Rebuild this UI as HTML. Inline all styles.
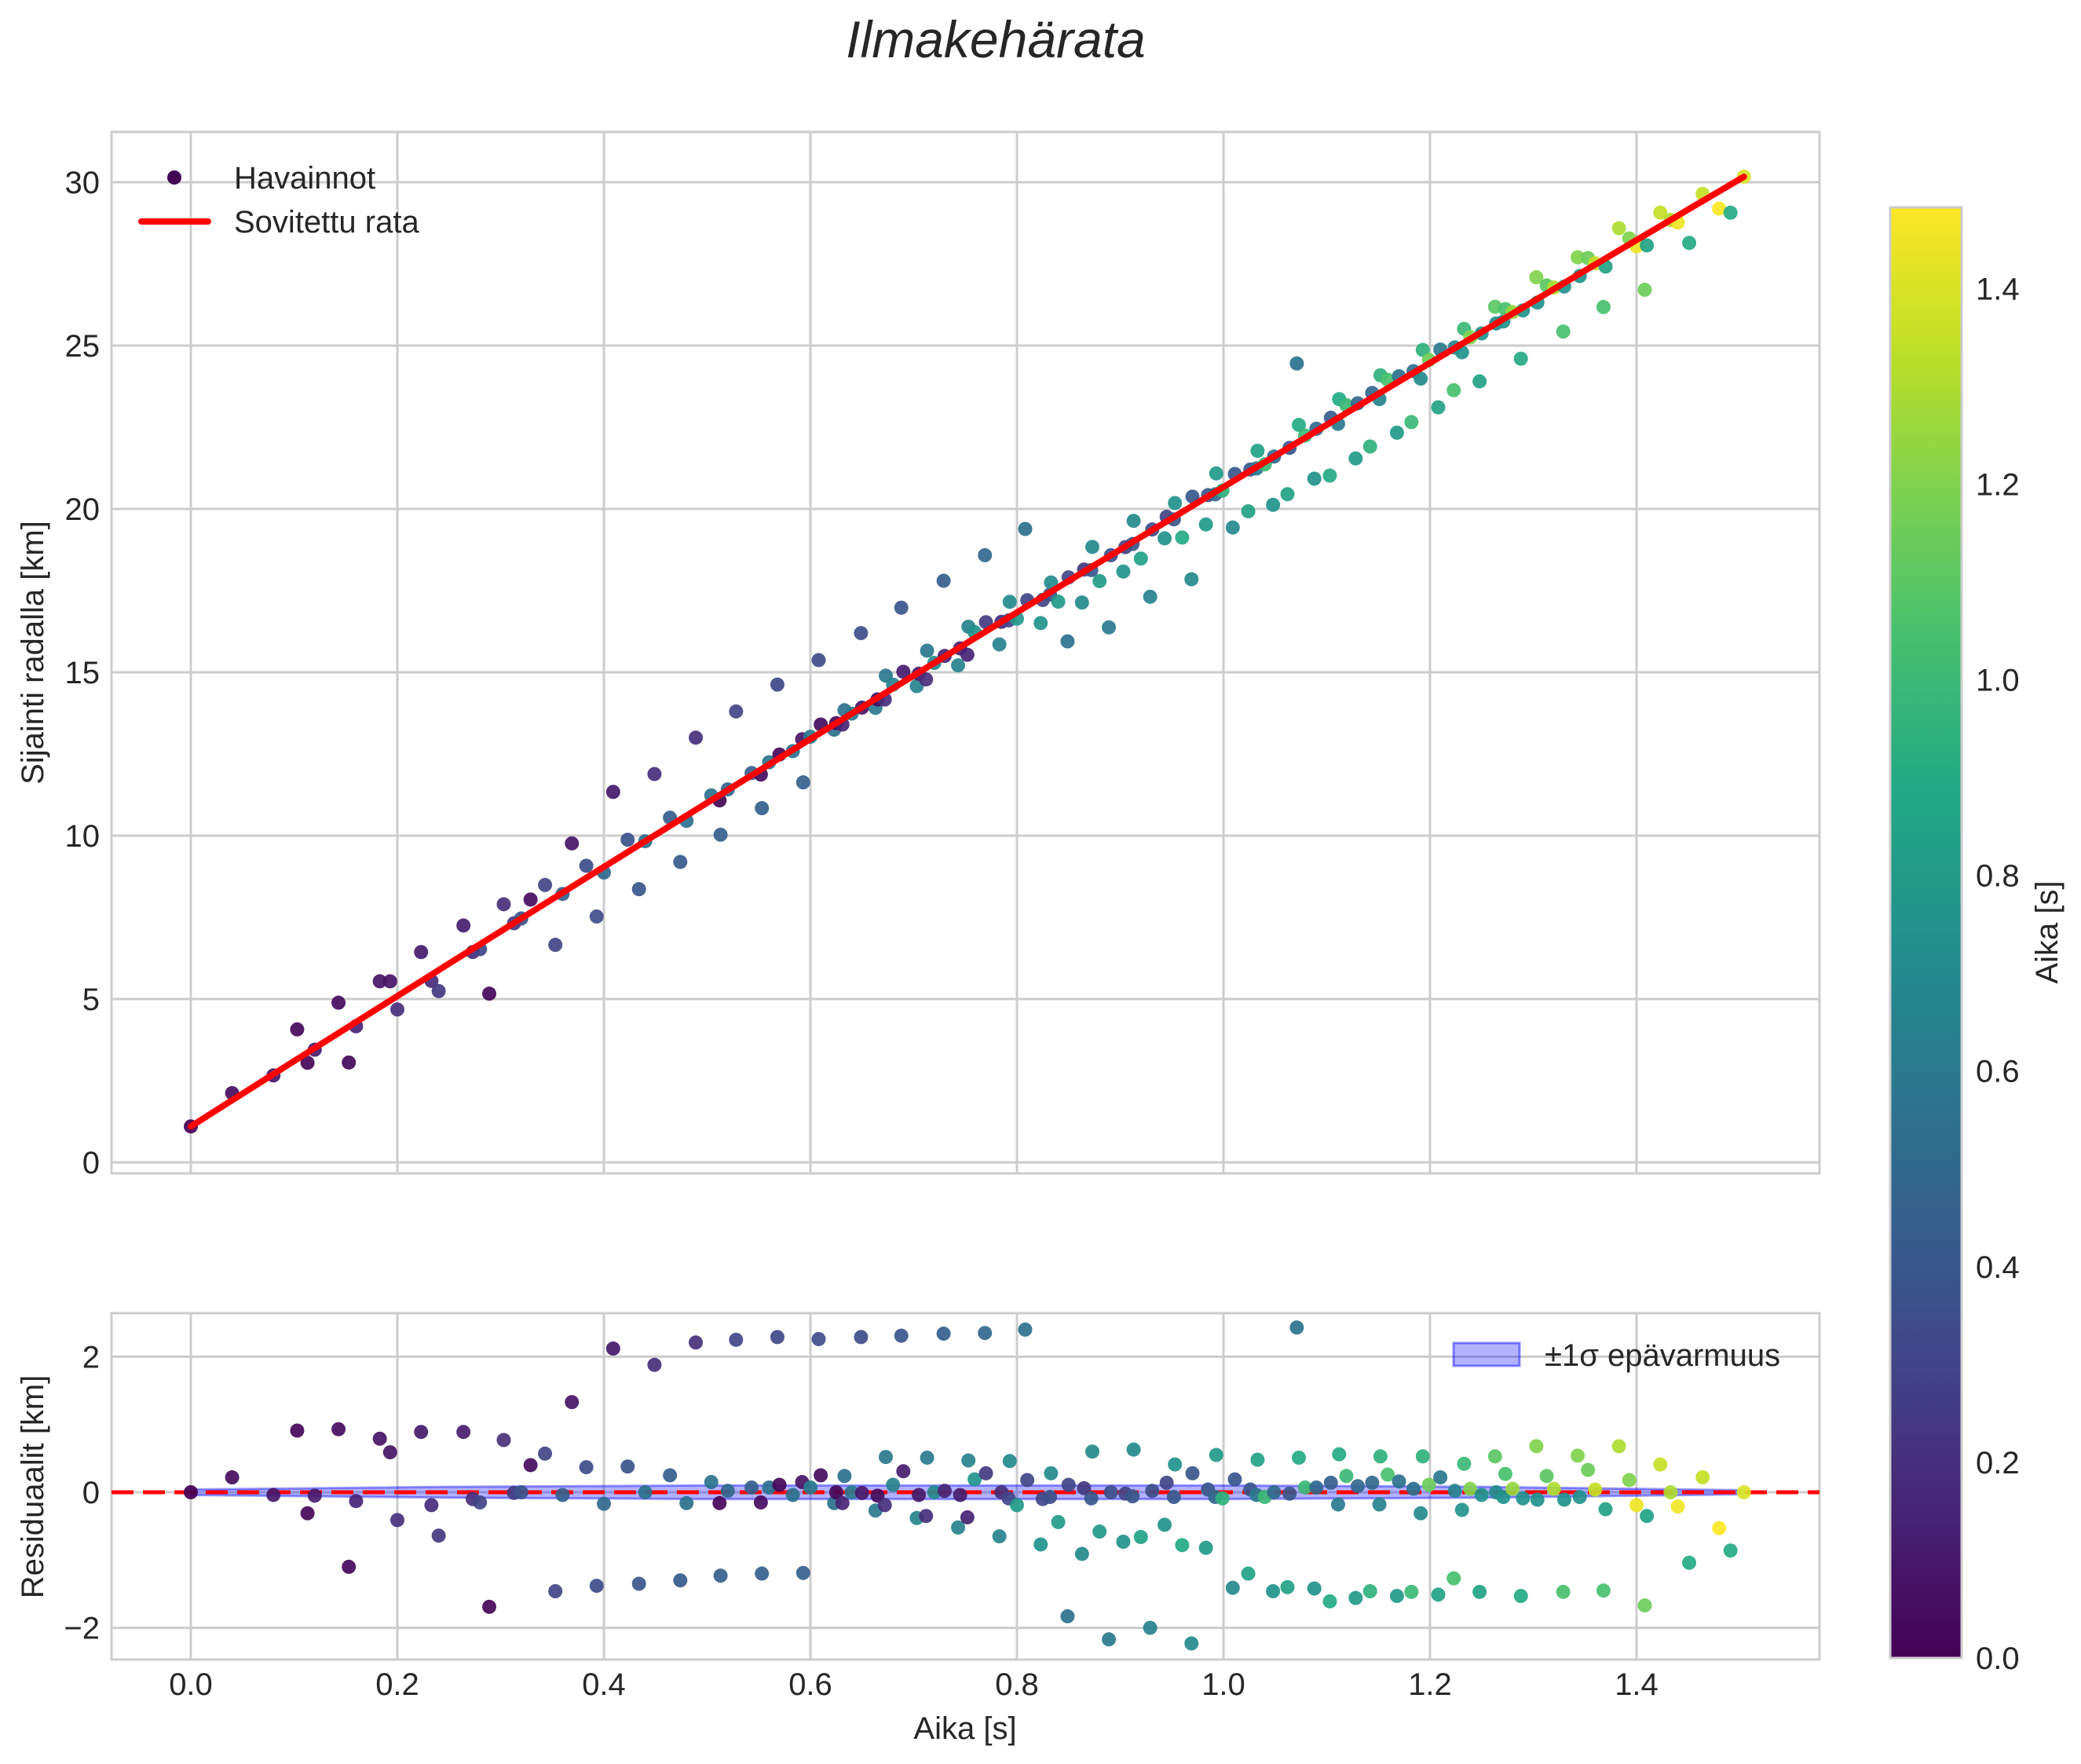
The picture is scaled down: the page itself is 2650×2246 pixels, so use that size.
<!DOCTYPE html>
<html><head><meta charset="utf-8"><style>
html,body{margin:0;padding:0;background:#fff;}
svg{display:block;font-family:"Liberation Sans",sans-serif;}
</style></head><body>
<svg id="chart" width="2650" height="2246" viewBox="0 0 2650 2246" xmlns="http://www.w3.org/2000/svg">
<defs>
<linearGradient id="viridis" x1="0" y1="1" x2="0" y2="0">
<stop offset="0" stop-color="#440154"/><stop offset="0.1" stop-color="#482475"/><stop offset="0.2" stop-color="#414487"/><stop offset="0.3" stop-color="#355f8d"/><stop offset="0.4" stop-color="#2a788e"/><stop offset="0.5" stop-color="#21918c"/><stop offset="0.6" stop-color="#22a884"/><stop offset="0.7" stop-color="#44bf70"/><stop offset="0.8" stop-color="#7ad151"/><stop offset="0.9" stop-color="#bddf26"/><stop offset="1" stop-color="#fde725"/>
</linearGradient>
<clipPath id="clipMain"><rect x="142" y="168" width="2175" height="1326"/></clipPath>
<clipPath id="clipRes"><rect x="142" y="1672" width="2175" height="441"/></clipPath>
</defs>
<text x="1268" y="73" font-size="66" font-style="italic" text-anchor="middle" fill="#262626">Ilmakehärata</text>
<g id="main"></g>
<g id="res"></g>
<g id="cbar"></g>
</svg>
<script>
const times = [0,.040,.080,.103,.113,.120,.143,.153,.160,.183,.193,.200,.223,.233,.240,.264,.273,.280,.289,.303,.313,.320,.329,.343,.353,.360,.369,.383,.393,.400,.409,.423,.434,.440,.449,.464,.474,.480,.489,.504,.512,.513,
.520,.528,.543,.552,.553,.560,.568,.570,.583,.592,.593,.600,.608,.610,.623,.625,.631,.633,.640,.649,.650,.663,.665,.672,.673,.680,.688,.690,.703,.705,.712,.713,.720,.729,.730,.743,.745,.752,.753,.759,.769,.770,.783,.785,.792,.793,.800,.808,.810,.823,.825,.832,.833,.840,.849,.850,.863,.865,.872,.873,.880,.889,.891,.903,.905,.912,.913,.920,.929,.931,.943,.945,.952,.953,.960,.969,.970,.983,.985,.992,.993,.999,1.009,1.011,1.024,1.026,1.032,1.033,1.040,1.048,
1.049,1.062,1.064,1.071,1.073,1.079,1.088,1.090,1.103,1.104,1.111,1.112,1.119,1.128,1.130,1.142,1.144,1.151,1.152,1.159,1.168,1.170,1.182,1.184,1.191,1.193,1.199,1.208,1.210,1.223,1.224,1.231,1.233,1.239,1.248,1.250,1.263,1.264,1.271,1.273,1.280,1.288,1.290,1.303,1.304,1.313,1.320,1.329,1.330,1.343,1.345,1.353,1.360,1.368,1.370,1.383,1.393,1.400,1.408,1.410,1.423,1.433,1.440,1.451,1.464,1.480,1.491,1.504];
const residuals = [0,.22,-.04,.91,-.31,-.05,.93,-1.10,-.13,.79,.59,-.41,.89,-.19,-.64,.89,-.10,-.15,-1.69,.77,-.01,0,.40,.57,-1.46,-.04,1.33,.37,-1.38,-.17,2.12,.38,-1.35,0,1.88,.25,-1.30,-.16,2.21,.15,-.16,-1.23,
.02,2.25,.07,-.15,-1.20,.07,2.29,.11,-.04,.15,-1.19,.07,2.26,.25,-.16,0,-.16,.24,0,2.29,-.01,-.27,-.05,-.19,.52,.11,2.31,.31,-.38,-.04,-.35,.51,0,2.34,.02,-.52,-.04,-.37,.47,.19,2.35,.28,-.65,0,-.09,.46,-.19,2.40,.18,-.77,-.10,-.07,.28,-.44,-1.83,.11,-.91,.06,-.09,.60,-.58,-2.17,0,-.73,-.02,-.06,.63,-.66,-2.00,.02,-.48,.14,-.07,.41,-.78,-2.23,.28,-.82,.04,-.07,.55,-.09,-1.41,.19,-1.20,.04,-.04,.48,-.07,-1.46,
0,-1.40,-.02,2.43,.51,.07,-1.42,.07,-1.61,.14,-.18,.56,.24,-1.56,.09,-1.46,.14,-.18,.53,.26,-1.53,.16,-1.47,.05,-.31,.53,.11,-1.51,.22,-1.27,.02,-.26,.42,.05,-1.47,-.04,.53,0,-.07,.27,.05,-1.53,-.09,.68,-.11,.24,.05,-1.47,-.11,.54,-.07,.33,.04,-1.45,-.25,.68,.18,-.19,-1.67,-.35,.41,0,-.21,-1.04,.22,-.53,-.86,0];
const colours = [0,.05,.1,.02,.02,.12,.05,.03,.15,.08,.08,.2,.1,.18,.25,.12,.2,.3,.02,.2,.25,.38,.05,.3,.3,.45,.08,.35,.35,.5,.1,.38,.4,.55,.2,.45,.42,.55,.2,.55,.02,.45,
.5,.3,.45,.05,.45,.55,.32,.02,.55,.08,.45,.6,.35,.05,.55,.02,.15,.55,.6,.35,.1,.6,.05,.2,.6,.65,.4,.12,.65,.1,.2,.6,.7,.45,.15,.65,.12,.15,.65,.75,.5,.25,.65,.2,.3,.7,.8,.55,.3,.75,.3,.35,.7,.8,.55,.3,.7,.25,.4,.7,.8,.6,.35,.75,.3,.4,.7,.85,.65,.35,.75,.3,.4,.75,.9,.7,.4,.8,.4,.5,.8,.95,.7,.4,.85,.4,.6,.85,1.0,.75,
.5,.85,.4,.55,.9,1.0,.75,.5,.9,.45,.6,.9,1.0,.8,.5,.95,.5,.65,.95,1.05,.8,.55,1.0,.55,.7,.95,1.15,.85,.6,1.05,.65,.75,1.0,1.2,.85,.75,1.1,.7,.75,1.05,1.25,.9,.75,1.2,.75,1.1,1.3,1.05,.75,1.2,.75,1.15,1.35,1.05,.85,1.3,1.2,1.45,1.15,.85,1.35,1.3,1.45,.9,1.35,1.48,.9,1.4];
const fitCoef = [1.1, 20.05, -0.48];
const bandT = [0,0.25,0.5,0.75,1.0,1.25,1.5];
const bandSigma = [0.04,0.08,0.10,0.10,0.10,0.08,0.03];
const yTicksMain = [0,5,10,15,20,25,30];
const yTicksRes = [-2,0,2];
const xTicks = [0,0.2,0.4,0.6,0.8,1.0,1.2,1.4];
const cbarTicks = [0,0.2,0.4,0.6,0.8,1.0,1.2,1.4];
const cMax = 1.483;

const NS="http://www.w3.org/2000/svg";
function mk(tag, attrs, parent){const e=document.createElementNS(NS,tag);for(const k in attrs)e.setAttribute(k,attrs[k]);parent.appendChild(e);return e;}
const AX={l:142,r:2317};
const xS=t=>243+1315*t;
const yM=v=>1480-41.6*v;
const yR=v=>1900-86.3*v;
const fit=t=>fitCoef[0]+fitCoef[1]*t+fitCoef[2]*t*t;
const vir=["#440154","#482475","#414487","#355f8d","#2a788e","#21918c","#22a884","#44bf70","#7ad151","#bddf26","#fde725"];
function hex(h){return [1,3,5].map(i=>parseInt(h.substr(i,2),16));}
function cmap(c){let v=Math.max(0,Math.min(1,c/cMax))*10;const i=Math.min(9,Math.floor(v));const f=v-i;const a=hex(vir[i]),b=hex(vir[i+1]);return "rgb("+a.map((x,k)=>Math.round(x+(b[k]-x)*f)).join(",")+")";}
const G="#cccccc", TXT="#262626";

const main=document.getElementById('main');
const res=document.getElementById('res');
const cb=document.getElementById('cbar');

xTicks.forEach(t=>{const l=mk('line',{x1:xS(t),x2:xS(t),y1:168,y2:1494,stroke:G,'stroke-width':3},main);

});
yTicksMain.forEach(v=>{const l=mk('line',{x1:AX.l,x2:AX.r,y1:yM(v),y2:yM(v),stroke:G,'stroke-width':3},main);


const tx=mk('text',{x:127,y:yM(v)+14,'font-size':40,'text-anchor':'end',fill:TXT},main);tx.textContent=v;

});
const mf=mk('rect',{x:AX.l,y:168,width:AX.r-AX.l,height:1326,fill:'none',stroke:G,'stroke-width':3},main);


const myl=mk('text',{x:0,y:0,'font-size':40,'text-anchor':'middle',fill:TXT,transform:'translate(55,831) rotate(-90)'},main);myl.textContent='Sijainti radalla [km]';



const mg=mk('g',{'clip-path':'url(#clipMain)'},main);
times.forEach((t,i)=>{const c=mk('circle',{cx:xS(t),cy:yM(fit(t)+residuals[i]),r:9,fill:cmap(colours[i]),'fill-opacity':0.92},mg);

});
let d='';for(let k=0;k<=60;k++){const t=1.504*k/60;d+=(k?'L':'M')+xS(t).toFixed(1)+','+yM(fit(t)).toFixed(1);}
const fl=mk('path',{d:d,stroke:'#ff0000','stroke-width':8,fill:'none','stroke-linecap':'round'},mg);



const lg=mk('g',{},main);


mk('circle',{cx:222,cy:226,r:9,fill:'#440154'},lg);
const lt1=mk('text',{x:298,y:240,'font-size':40,fill:TXT},lg);lt1.textContent='Havainnot';


mk('line',{x1:180,x2:265,y1:282,y2:282,stroke:'#ff0000','stroke-width':8,'stroke-linecap':'round'},lg);
const lt2=mk('text',{x:298,y:296,'font-size':40,fill:TXT},lg);lt2.textContent='Sovitettu rata';



xTicks.forEach(t=>{const l=mk('line',{x1:xS(t),x2:xS(t),y1:1672,y2:2113,stroke:G,'stroke-width':3},res);


const tx=mk('text',{x:xS(t),y:2158,'font-size':40,'text-anchor':'middle',fill:TXT},res);tx.textContent=t.toFixed(1);

});
yTicksRes.forEach(v=>{const l=mk('line',{x1:AX.l,x2:AX.r,y1:yR(v),y2:yR(v),stroke:G,'stroke-width':3},res);


const tx=mk('text',{x:127,y:yR(v)+14,'font-size':40,'text-anchor':'end',fill:TXT},res);tx.textContent=(v<0?'\u2212':'')+Math.abs(v);

});
const rf=mk('rect',{x:AX.l,y:1672,width:AX.r-AX.l,height:441,fill:'none',stroke:G,'stroke-width':3},res);


const ryl=mk('text',{x:0,y:0,'font-size':40,'text-anchor':'middle',fill:TXT,transform:'translate(55,1893) rotate(-90)'},res);ryl.textContent='Residuaalit [km]';


const xl=mk('text',{x:1229,y:2214,'font-size':40,'text-anchor':'middle',fill:TXT},res);xl.textContent='Aika [s]';



const rg=mk('g',{'clip-path':'url(#clipRes)'},res);
let bu='',bl='';
bandT.forEach((t,i)=>{bu+=(i?'L':'M')+xS(t)+','+yR(bandSigma[i]);});
for(let i=bandT.length-1;i>=0;i--){bl+='L'+xS(bandT[i])+','+yR(-bandSigma[i]);}
const band=mk('path',{d:bu+bl+'Z',fill:'rgba(0,0,255,0.3)',stroke:'rgba(0,0,255,0.4)','stroke-width':3},rg);


const zl=mk('line',{x1:AX.l,x2:AX.r,y1:yR(0),y2:yR(0),stroke:'#ff0000','stroke-width':5,'stroke-dasharray':'28,12'},rg);


times.forEach((t,i)=>{const c=mk('circle',{cx:xS(t),cy:yR(residuals[i]),r:9,fill:cmap(colours[i]),'fill-opacity':0.92},rg);

});

const rlg=mk('g',{},res);


mk('rect',{x:1851,y:1710,width:84,height:29,fill:'rgba(0,0,255,0.3)',stroke:'rgba(0,0,255,0.45)','stroke-width':3},rlg);
const rlt=mk('text',{x:1967,y:1739,'font-size':40,fill:TXT},rlg);rlt.textContent='\u00b11\u03c3 epävarmuus';



const cbT=264,cbB=2111;
const cbr=mk('rect',{x:2407,y:cbT,width:91,height:cbB-cbT,fill:'url(#viridis)',stroke:G,'stroke-width':3},cb);


cbarTicks.forEach(v=>{const y=cbB-(cbB-cbT)*v/cMax;
const tx=mk('text',{x:2516,y:y+14,'font-size':40,fill:TXT},cb);tx.textContent=v.toFixed(1);

});
const cl=mk('text',{x:0,y:0,'font-size':40,'text-anchor':'middle',fill:TXT,transform:'translate(2620,1187) rotate(-90)'},cb);cl.textContent='Aika [s]';


</script>
</body></html>
